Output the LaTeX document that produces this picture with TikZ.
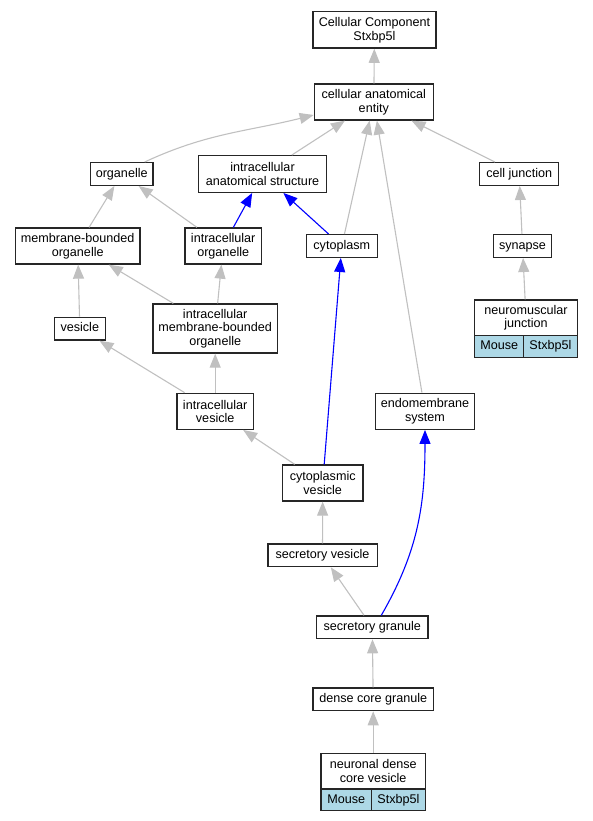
\documentclass[tikz,border=0pt]{standalone}
\usepackage{fontspec}
\setmainfont{Liberation Sans}
\usetikzlibrary{arrows.meta}
\definecolor{edgegray}{HTML}{C0C0C0}
\definecolor{cellblue}{HTML}{ADD8E6}
\tikzset{
  term/.style={draw=black!85, line width=1.3pt, inner sep=0pt, align=center,
    font=\fontsize{12.6}{13.5}\selectfont},
  one/.style={term, minimum height=22.7pt, text height=9pt, text depth=2.6pt},
  cell/.style={one, fill=cellblue, minimum height=21.6pt},
  isa/.style={draw=edgegray, line width=1.1pt, -{Triangle[length=14pt,width=11pt]}},
  partof/.style={draw=blue, line width=1.1pt, -{Triangle[length=14pt,width=11pt]}},
}
\begin{document}
\begin{tikzpicture}[x=1pt, y=-1pt]
\useasboundingbox (0,0) rectangle (592,821);
\node[term, minimum width=123pt, minimum height=36.3pt] (cc) at (374.5,30){Cellular Component\\Stxbp5l};
\node[term, minimum width=119pt, minimum height=36pt] (cae) at (373.8,102){cellular anatomical\\entity};
\draw[isa](cae) -- (cc);
\node[one, minimum width=62.7pt] (org) at (121.7,174){organelle};
\node[term, minimum width=128.4pt, minimum height=36.6pt] (ias) at (262.5,174){intracellular\\anatomical structure};
\node[one, minimum width=79pt] (cj) at (519.2,174){cell junction};
\draw[isa]([xshift=23pt]org.north) to[out=25, in=194] ([yshift=-13pt]cae.west);
\draw[isa](ias) -- (cae);
\draw[isa](cj) -- (cae);
\node[term, minimum width=124.7pt, minimum height=36pt] (mbo) at (77.7,246){membrane-bounded\\organelle};
\node[term, minimum width=76.3pt, minimum height=36pt] (io) at (223.2,246){intracellular\\organelle};
\node[one, minimum width=71pt] (cyto) at (341.8,246){cytoplasm};
\node[one, minimum width=58.4pt] (syn) at (522.5,246){synapse};
\draw[isa](mbo) -- (org);
\draw[isa](io) -- (org);
\draw[partof](io) -- (ias);
\draw[partof](cyto) -- (ias);
\draw[isa](cyto) -- (cae);
\draw[isa](syn) -- (cj);
% neuromuscular junction record
\node[term, minimum width=102.6pt, minimum height=35.7pt] (nmj) at (526,317.8){neuromuscular\\junction};
\node[cell, minimum width=49pt] (nmjsp) at (499.2,346.5){Mouse};
\node[cell, minimum width=53.6pt] (nmjgn) at (550.5,346.5){Stxbp5l};
\draw[isa](nmj) -- (syn);
\node[one, minimum width=51pt] (ves) at (79.8,328.7){vesicle};
\node[term, minimum width=124.3pt, minimum height=49pt] (imbo) at (215.2,328.5){intracellular\\membrane-bounded\\organelle};
\draw[isa](ves) -- (mbo);
\draw[isa](imbo) -- (mbo);
\draw[isa](imbo) -- (io);
\node[term, minimum width=76.3pt, minimum height=36pt] (iv) at (215.2,411.3){intracellular\\vesicle};
\node[term, minimum width=99.4pt, minimum height=36pt] (endo) at (425,411.3){endomembrane\\system};
\draw[isa](iv) -- (ves);
\draw[isa](iv) -- (imbo);
\draw[isa](endo) -- (cae);
\node[term, minimum width=80.7pt, minimum height=36pt] (cv) at (322.7,483){cytoplasmic\\vesicle};
\draw[isa](cv) -- (iv);
\draw[partof](cv) -- (cyto);
\node[one, minimum width=109.3pt] (sv) at (322.5,555.3){secretory vesicle};
\draw[isa](sv) -- (cv);
\node[one, minimum width=111.3pt] (sg) at (372.3,627.3){secretory granule};
\draw[isa](sg) -- (sv);
\draw[partof]([xshift=9pt]sg.north) to[out=60, in=-90] (endo.south);
\node[one, minimum width=120.3pt] (dcg) at (373.2,699.3){dense core granule};
\draw[isa](dcg) -- (sg);
% neuronal dense core vesicle record
\node[term, minimum width=104.3pt, minimum height=35.7pt] (ndcv) at (373.2,771.2){neuronal dense\\core vesicle};
\node[cell, minimum width=50.7pt] (ndcvsp) at (346.3,799.9){Mouse};
\node[cell, minimum width=53.6pt] (ndcvgn) at (398.5,799.9){Stxbp5l};
\draw[isa](ndcv) -- (dcg);
\end{tikzpicture}
\end{document}
